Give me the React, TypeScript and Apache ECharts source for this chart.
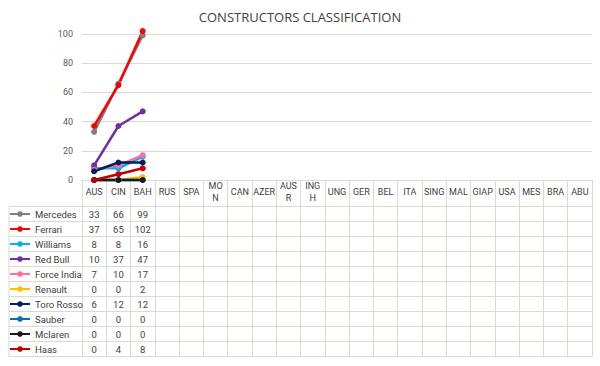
import React, { useEffect, useRef } from "react";
import * as echarts from "echarts";

const categories = ["AUS", "CIN", "BAH", "RUS", "SPA", "MON", "CAN", "AZER", "AUSR", "INGH", "UNG", "GER", "BEL", "ITA", "SING", "MAL", "GIAP", "USA", "MES", "BRA", "ABU"];
const headerLabels = ["AUS", "CIN", "BAH", "RUS", "SPA", "MO\nN", "CAN", "AZER", "AUS\nR", "ING\nH", "UNG", "GER", "BEL", "ITA", "SING", "MAL", "GIAP", "USA", "MES", "BRA", "ABU"];
const yTicks = [0, 20, 40, 60, 80, 100];

const teams = ["Mercedes", "Ferrari", "Williams", "Red Bull", "Force India", "Renault", "Toro Rosso", "Sauber", "Mclaren", "Haas"];
const teamColors = ["#7f7f7f", "#ff0000", "#00b0f0", "#7030a0", "#ff6f9f", "#ffc000", "#002060", "#0070c0", "#1a1a1a", "#c00000"];

const mercedes = [33, 66, 99];
const ferrari = [37, 65, 102];
const williams = [8, 8, 16];
const redBull = [10, 37, 47];
const forceIndia = [7, 10, 17];
const renault = [0, 0, 2];
const toroRosso = [6, 12, 12];
const sauber = [0, 0, 0];
const mclaren = [0, 0, 0];
const haas = [0, 4, 8];

const teamValues = [mercedes, ferrari, williams, redBull, forceIndia, renault, toroRosso, sauber, mclaren, haas];

const TITLE_FONT = "Open Sans";
const FONT = "Roboto";
const TEXT = "#404040";
const GRID = "#d5dcd0";

export default function App() {
  const ref = useRef<HTMLDivElement>(null);

  useEffect(() => {
    if (!ref.current) return;
    const chart = echarts.init(ref.current, null, { renderer: "svg" });

    const gridLeft = 82;
    const gridRight = 8;
    const axisY = 180;
    const rowTop = 206.5;
    const rowH = 15;

    const rowAxes = teamValues.map((vals, i) => ({
      type: "category",
      gridIndex: 0,
      position: "bottom",
      offset: rowTop - axisY + rowH * i + rowH / 2,
      data: categories,
      axisLine: { show: false },
      axisTick: { show: false },
      splitLine: { show: false },
      axisLabel: {
        interval: 0,
        margin: 0,
        verticalAlign: "middle",
        fontSize: 9.5,
        fontFamily: FONT,
        color: TEXT,
        formatter: (_v: string, idx: number) => (vals[idx] === undefined ? "" : String(vals[idx])),
      },
    }));

    const lines: any[] = [];
    for (let i = 0; i <= teams.length; i++) {
      const y = rowTop + rowH * i;
      lines.push({
        type: "line",
        shape: { x1: 9, y1: y, x2: 600 - gridRight, y2: y },
        style: { stroke: GRID, lineWidth: 1 },
        silent: true,
      });
    }
    lines.push({
      type: "line",
      shape: { x1: 9, y1: rowTop, x2: 9, y2: rowTop + rowH * teams.length },
      style: { stroke: GRID, lineWidth: 1 },
      silent: true,
    });

    const option: any = {
      animation: false,
      backgroundColor: "#ffffff",
      title: {
        text: "CONSTRUCTORS CLASSIFICATION",
        left: "center",
        top: 5,
        textStyle: { fontFamily: TITLE_FONT, fontSize: 13, fontWeight: "normal", color: "#404040" },
      },
      grid: { left: gridLeft, right: gridRight, top: 34, bottom: 366 - axisY, containLabel: false },
      legend: {
        data: teams,
        orient: "vertical",
        left: 9,
        top: rowTop,
        padding: 0,
        itemGap: 0,
        itemWidth: 20,
        itemHeight: 7,
        textStyle: { fontFamily: FONT, fontSize: 9.5, color: TEXT, lineHeight: rowH },
      },
      xAxis: [
        {
          type: "category",
          data: headerLabels,
          boundaryGap: true,
          axisLine: { show: true, lineStyle: { color: GRID, width: 1 } },
          axisTick: { show: true, inside: false, length: rowTop + rowH * teams.length - axisY, lineStyle: { color: GRID } },
          axisLabel: {
            interval: 0,
            margin: 12,
            verticalAlign: "middle",
            fontSize: 9,
            lineHeight: 12,
            fontFamily: FONT,
            color: TEXT,
            formatter: (v: string) => v.split("\n").map((s) => `{h|${s}}`).join("\n"),
            rich: { h: { fontSize: 9, lineHeight: 12, fontFamily: FONT, color: TEXT } },
          },
          splitLine: { show: false },
        },
        ...rowAxes,
      ],
      yAxis: {
        type: "value",
        min: yTicks[0],
        max: yTicks[yTicks.length - 1],
        interval: 20,
        axisLine: { show: false },
        axisTick: { show: false },
        axisLabel: { fontSize: 9, fontFamily: FONT, color: "#595959", margin: 9 },
        splitLine: { lineStyle: { color: GRID, width: 1 } },
      },
      series: teams.map((name, i) => ({
        name,
        type: "line",
        data: teamValues[i],
        color: teamColors[i],
        clip: false,
        symbol: "circle",
        symbolSize: 6,
        lineStyle: { width: 2.5, color: teamColors[i] },
        itemStyle: { color: teamColors[i] },
      })),
      graphic: lines,
    };

    chart.setOption(option);
    return () => chart.dispose();
  }, []);

  return <div ref={ref} style={{ position: "fixed", left: 0, top: 0, width: 600, height: 366 }} />;
}
